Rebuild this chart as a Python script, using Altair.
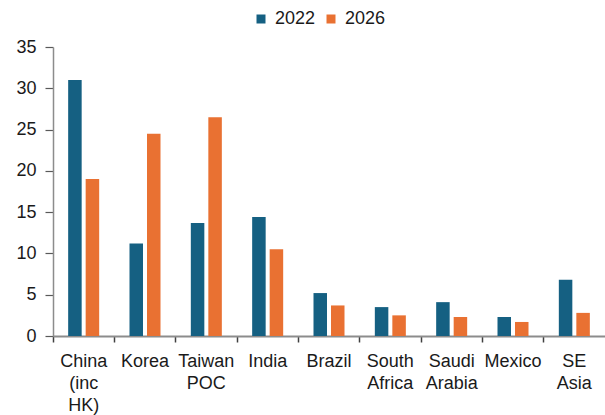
import altair as alt
import pandas as pd

# Country groups on the x axis (labels wrap at spaces)
categories = ["China (inc HK)", "Korea", "Taiwan POC", "India", "Brazil",
              "South Africa", "Saudi Arabia", "Mexico", "SE Asia"]
years = ["2022", "2026"]
values_2022 = [31.0, 11.2, 13.7, 14.4, 5.2, 3.5, 4.1, 2.3, 6.8]
values_2026 = [19.0, 24.5, 26.5, 10.5, 3.7, 2.5, 2.3, 1.7, 2.8]
colors = ["#156082", "#E97132"]
y_ticks = [0, 5, 10, 15, 20, 25, 30, 35]

rows = []
for cat, a, b in zip(categories, values_2022, values_2026):
    rows.append({"country": cat, "year": years[0], "value": a})
    rows.append({"country": cat, "year": years[1], "value": b})
df = pd.DataFrame(rows)

FONT = "Liberation Sans"
FS = 18

chart = alt.Chart(df).mark_bar().encode(
    x=alt.X(
        "country:N",
        sort=categories,
        scale=alt.Scale(paddingInner=0, paddingOuter=0),
        axis=alt.Axis(
            title=None,
            labelAngle=0,
            labelExpr="split(datum.label, ' ')",
            labelFont=FONT,
            labelFontSize=FS,
            labelColor="#1a1a1a",
            labelLineHeight=22,
            labelPadding=10,
            bandPosition=0,
            tickSize=6,
            tickColor="#404040",
            tickWidth=1.5,
            domainColor="#8c8c8c",
            domainWidth=2,
        ),
    ),
    xOffset=alt.XOffset(
        "year:N",
        sort=years,
        scale=alt.Scale(paddingInner=0.2286, paddingOuter=0.866),
    ),
    y=alt.Y(
        "value:Q",
        scale=alt.Scale(domain=[0, 35], nice=False),
        axis=alt.Axis(
            title=None,
            values=y_ticks,
            grid=False,
            labelFont=FONT,
            labelFontSize=FS,
            labelColor="#1a1a1a",
            labelPadding=9,
            tickSize=8,
            tickColor="#595959",
            tickWidth=1.2,
            domainColor="#8c8c8c",
            domainWidth=1.5,
        ),
    ),
    color=alt.Color(
        "year:N",
        sort=years,
        scale=alt.Scale(domain=years, range=colors),
        legend=alt.Legend(
            title=None,
            orient="none",
            direction="horizontal",
            legendX=199,
            legendY=-37,
            padding=0,
            symbolType="square",
            symbolSize=81,
            symbolStrokeWidth=0,
            labelFont=FONT,
            labelFontSize=FS,
            labelColor="#1a1a1a",
            labelOffset=5,
            columnPadding=6,
        ),
    ),
).properties(
    width=552,
    height=289,
    autosize=alt.AutoSizeParams(type="none"),
    padding={"left": 53, "top": 47, "right": 0, "bottom": 79},
).configure_view(stroke=None)

chart.save("out.html", embed_options={"renderer": "svg", "actions": False})
